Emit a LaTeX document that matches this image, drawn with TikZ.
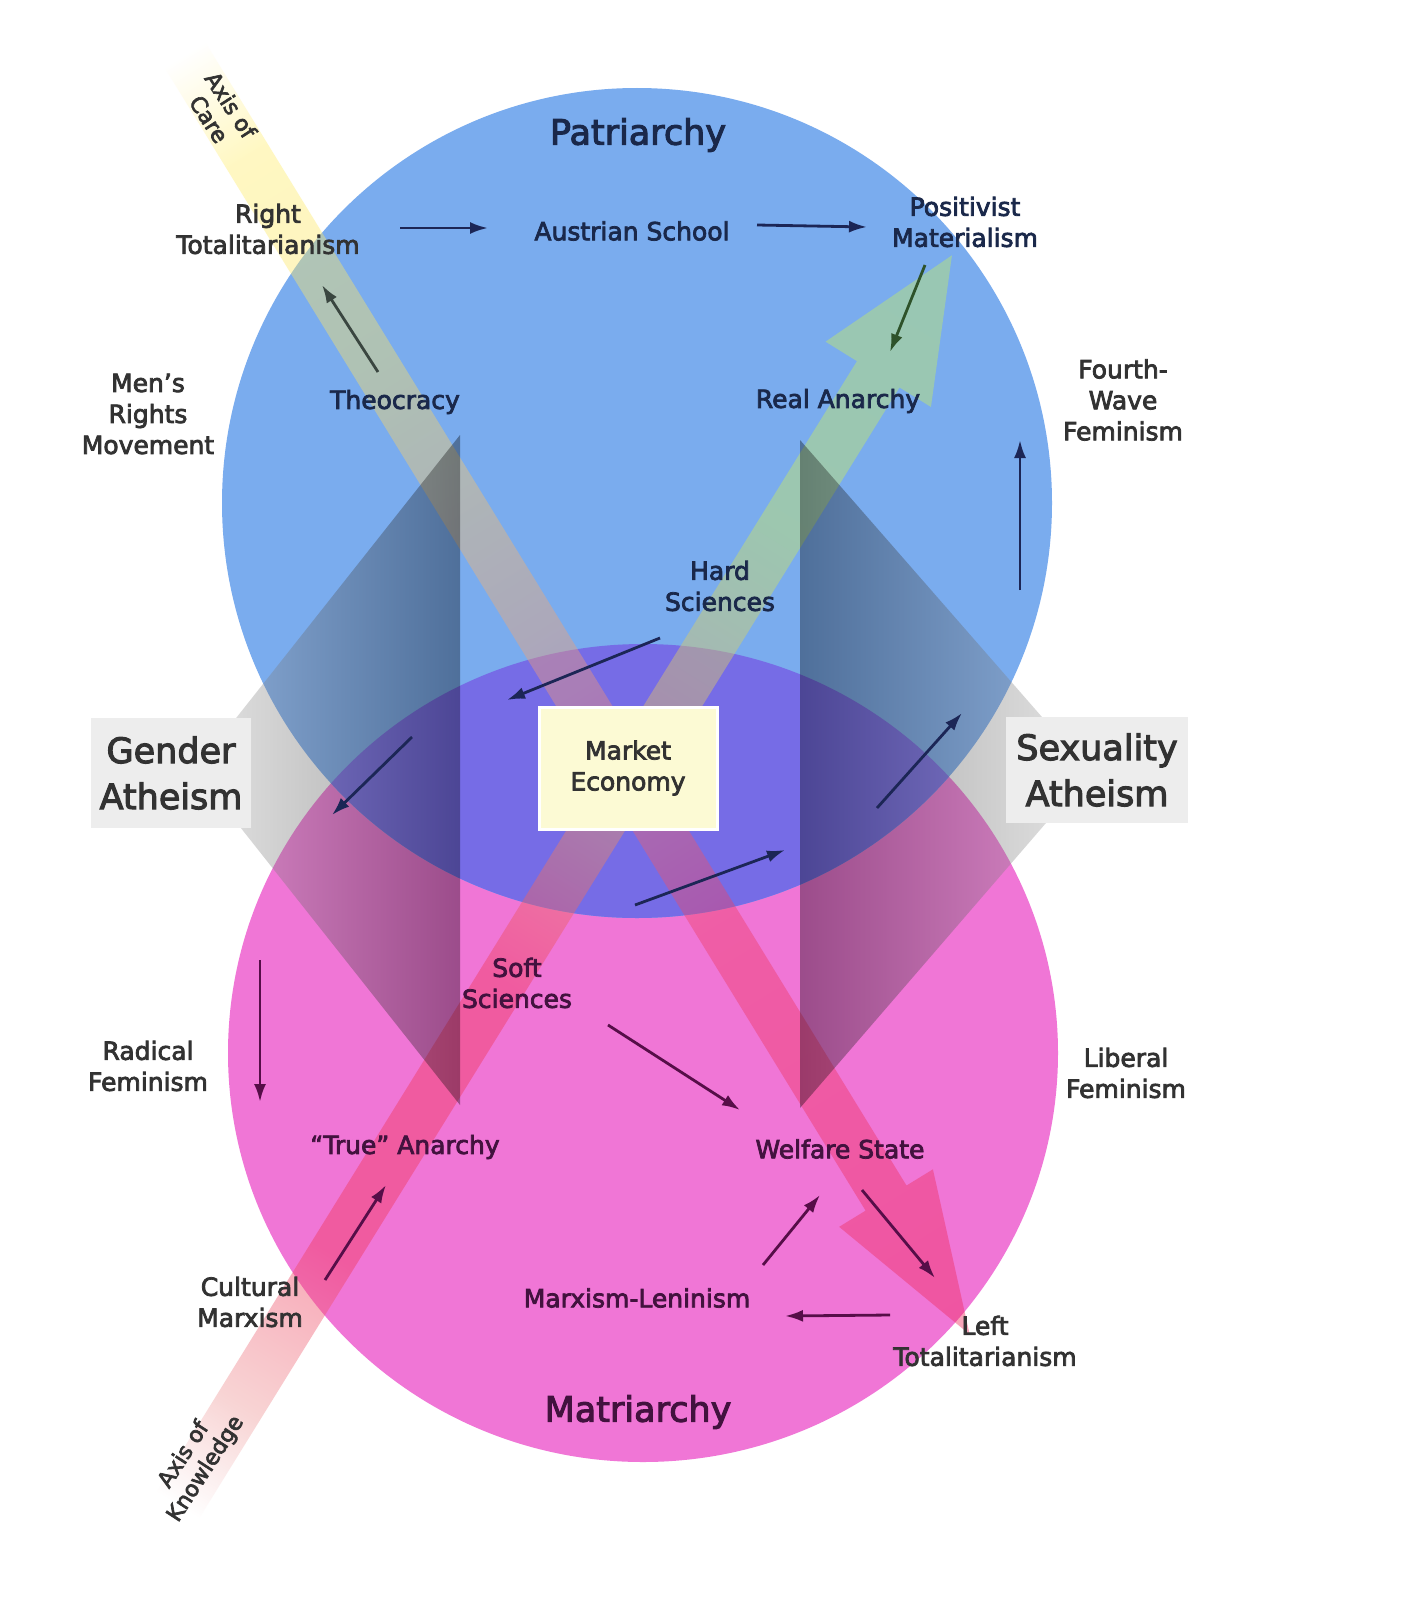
\documentclass[tikz,border=0pt]{standalone}
\usepackage{fontspec}
\setmainfont{DejaVu Sans}[FakeBold=3]
\usetikzlibrary{arrows.meta}
\definecolor{patriblue}{RGB}{122,172,238}
\definecolor{matripink}{RGB}{240,118,214}
\definecolor{overlap}{RGB}{118,108,230}
\definecolor{outtext}{RGB}{50,50,50}
\definecolor{bluetext}{RGB}{26,40,74}
\definecolor{pinktext}{RGB}{66,18,62}
\definecolor{navyarrow}{RGB}{28,38,86}
\definecolor{plumarrow}{RGB}{86,14,72}
\definecolor{olivearrow}{RGB}{46,82,42}
\definecolor{slatearrow}{RGB}{58,70,64}
\definecolor{marketyellow}{RGB}{252,250,212}
\definecolor{careyellow}{RGB}{255,238,110}
\definecolor{carebeige}{RGB}{250,225,100}
\definecolor{careorange}{RGB}{240,150,120}
\definecolor{carered}{RGB}{238,60,100}
\definecolor{careend}{RGB}{238,40,90}
\definecolor{knowsalmon}{RGB}{240,160,160}
\definecolor{knowred}{RGB}{240,60,95}
\definecolor{knowtan}{RGB}{230,180,110}
\definecolor{knowgreen}{RGB}{200,232,100}
\definecolor{knowend}{RGB}{190,232,110}
\pgfdeclarehorizontalshading{careband}{100bp}{color(0bp)=(white); color(25bp)=(white); color(29bp)=(careyellow); color(37bp)=(carebeige); color(50bp)=(careorange); color(59bp)=(carered); color(75bp)=(careend); color(100bp)=(careend)}
\pgfdeclarehorizontalshading{knowband}{100bp}{color(0bp)=(white); color(25bp)=(white); color(29bp)=(knowsalmon); color(35bp)=(knowred); color(46bp)=(knowred); color(55bp)=(knowtan); color(64bp)=(knowgreen); color(75bp)=(knowend); color(100bp)=(knowend)}
\begin{document}
\begin{tikzpicture}[x=1pt,y=-1pt]
    \tikzset{lbl/.style = {font=\fontsize{25}{31}\selectfont, align=center, text=outtext, inner sep=2pt}}
    \tikzset{biglbl/.style = {font=\fontsize{35}{46}\selectfont, align=center, text=outtext}}
    \tikzset{axislbl/.style = {font=\fontsize{22}{26}\selectfont, align=center, text=outtext}}
    \tikzset{edge/.style = {-{Latex[length=18pt,width=12pt]}, line width=2.8pt, navyarrow}}
    \useasboundingbox[fill=white] (0,0) rectangle (1410,1600);
    \fill[matripink] (643,1053) ellipse [x radius=415, y radius=409];
    \fill[patriblue] (637,503) circle [radius=415];
    \begin{scope}
        \clip (637,503) circle [radius=415];
        \fill[overlap] (643,1053) ellipse [x radius=415, y radius=409];
    \end{scope}
    \begin{scope}[transform canvas={shift={(185,55)}, rotate=-58.48}]
        \shade[shading=careband, fill opacity=.42] (0,-24) -- (1341,-24) -- (1341,-55) -- (1501,0) -- (1341,55) -- (1341,24) -- (0,24) -- cycle;
    \end{scope}
    \begin{scope}[transform canvas={shift={(178,1505)}, rotate=58.23}]
        \shade[shading=knowband, fill opacity=.45] (0,-25) -- (1330,-25) -- (1330,-62) -- (1470,0) -- (1330,62) -- (1330,25) -- (0,25) -- cycle;
    \end{scope}
    \shade[left color=black!30, right color=black, fill opacity=.35] (195,770) -- (460,435) -- (460,1105) -- cycle;
    \shade[left color=black, right color=black!30, fill opacity=.35] (800,440) -- (1090,772) -- (800,1108) -- cycle;
    \node[biglbl, text=bluetext] (patri) at (638,135) {Patriarchy};
    \node[biglbl, text=pinktext] (matri) at (638,1412) {Matriarchy};
    \node[biglbl, fill=black!7, inner xsep=9pt, inner ysep=18pt] (gender) at (171,773) {Gender\\Atheism};
    \node[biglbl, fill=black!7, inner xsep=10pt, inner ysep=16pt] (sexual) at (1097,770) {Sexuality\\Atheism};
    \node[axislbl, rotate=-57] (carelbl) at (220,112) {Axis of\\Care};
    \node[axislbl, rotate=57] (knowlbl) at (195,1462) {Axis of\\Knowledge};
    \node[lbl] (rtot) at (268,229) {Right\\Totalitarianism};
    \node[lbl, text=bluetext] (austrian) at (632,231) {Austrian School};
    \node[lbl, text=bluetext] (posmat) at (965,222) {Positivist\\Materialism};
    \node[lbl] (mens) at (148,414) {Men’s\\Rights\\Movement};
    \node[lbl, text=bluetext] (theo) at (395,402) {Theocracy};
    \node[lbl, text=bluetext] (realan) at (838,401) {Real Anarchy};
    \node[lbl] (fourth) at (1123,400) {Fourth-\\Wave\\Feminism};
    \node[lbl, text=bluetext] (hard) at (720,586) {Hard\\Sciences};
    \node[lbl, draw=white, line width=3pt, fill=marketyellow, minimum width=178pt, minimum height=122pt] (market) at (628,768) {Market\\Economy};
    \node[lbl, text=pinktext] (soft) at (517,983) {Soft\\Sciences};
    \node[lbl] (radical) at (148,1066) {Radical\\Feminism};
    \node[lbl] (liberal) at (1126,1073) {Liberal\\Feminism};
    \node[lbl, text=pinktext] (truean) at (405,1147) {“True” Anarchy};
    \node[lbl, text=pinktext] (welfare) at (840,1149) {Welfare State};
    \node[lbl] (cultural) at (250,1302) {Cultural\\Marxism};
    \node[lbl, text=pinktext] (marxlen) at (637,1298) {Marxism-Leninism};
    \node[lbl] (ltot) at (985,1341) {Left\\Totalitarianism};
    \draw[edge] ([shift={(132,-1)}]rtot.center) -- ([shift={(-144,-3)}]austrian.center);
    \draw[edge] ([shift={(125,-6)}]austrian.center) -- ([shift={(-98,5)}]posmat.center);
    \draw[edge, olivearrow] ([shift={(-40,43)}]posmat.center) -- ([shift={(52,-49)}]realan.center);
    \draw[edge, slatearrow] ([shift={(-17,-30)}]theo.center) -- ([shift={(54,56)}]rtot.center);
    \draw[edge] ([shift={(-60,52)}]hard.center) -- ([shift={(-121,-68)}]market.center);
    \draw[edge] ([shift={(-216,-31)}]market.center) -- ([shift={(161,42)}]gender.center);
    \draw[edge] ([shift={(7,137)}]market.center) -- ([shift={(157,82)}]market.center);
    \draw[edge] ([shift={(-220,38)}]sexual.center) -- ([shift={(-135,-57)}]sexual.center);
    \draw[edge] ([shift={(-103,190)}]fourth.center) -- ([shift={(-103,40)}]fourth.center);
    \draw[edge, plumarrow] ([shift={(112,-106)}]radical.center) -- ([shift={(112,36)}]radical.center);
    \draw[edge, plumarrow] ([shift={(75,-22)}]cultural.center) -- ([shift={(-19,38)}]truean.center);
    \draw[edge, plumarrow] ([shift={(91,42)}]soft.center) -- ([shift={(-100,-39)}]welfare.center);
    \draw[edge, plumarrow] ([shift={(126,-33)}]marxlen.center) -- ([shift={(-20,46)}]welfare.center);
    \draw[edge, plumarrow] ([shift={(22,41)}]welfare.center) -- ([shift={(-50,-63)}]ltot.center);
    \draw[edge, plumarrow] ([shift={(-95,-26)}]ltot.center) -- ([shift={(148,18)}]marxlen.center);
\end{tikzpicture}
\end{document}
